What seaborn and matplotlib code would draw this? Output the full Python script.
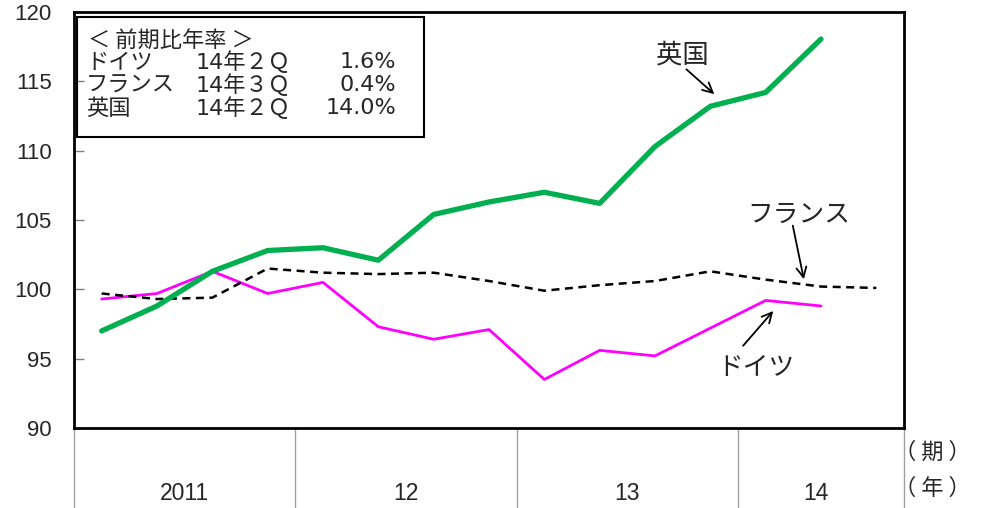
"""
欧州主要国の実質GDP推移（ドイツ・フランス・英国）の折れ線グラフ再現。
"""

import matplotlib
import numpy as np
import pandas as pd
import seaborn as sns

matplotlib.use("Agg")
import matplotlib.pyplot as plt
from matplotlib.patches import Rectangle

# 四半期（2011年1Q〜2014年3Q）
quarters = list(range(15))
year_labels = ["2011", "12", "13", "14"]
year_edges = [-0.5, 3.5, 7.5, 11.5, 14.5]

# 指数の値
uk = [97.0, 98.8, 101.3, 102.8, 103.0, 102.1, 105.4, 106.3, 107.0, 106.2,
      110.3, 113.2, 114.2, 118.05, np.nan]
germany = [99.3, 99.7, 101.3, 99.7, 100.5, 97.3, 96.4, 97.1, 93.5, 95.6,
           95.2, 97.2, 99.2, 98.8, np.nan]
france = [99.7, 99.3, 99.4, 101.5, 101.2, 101.1, 101.2, 100.6, 99.9, 100.3,
          100.6, 101.3, 100.7, 100.2, 100.1]

y_ticks = [90, 95, 100, 105, 110, 115, 120]

box_title = "＜ 前期比年率 ＞"
box_rows = [
    ("ドイツ", "14年２Ｑ", "1.6%"),
    ("フランス", "14年３Ｑ", "0.4%"),
    ("英国", "14年２Ｑ", "14.0%"),
]

JP = ["Noto Sans CJK JP", "DejaVu Sans"]
BOX = ["DejaVu Sans", "Noto Sans CJK JP"]


def main() -> None:
    sns.set_theme(style="white")
    plt.rcParams["font.family"] = ["Liberation Sans", "DejaVu Sans"]

    df = pd.DataFrame({"q": quarters, "英国": uk, "ドイツ": germany, "フランス": france})

    fig = plt.figure(figsize=(9.82, 5.08), dpi=100)
    ax = fig.add_axes([74 / 982, 1 - 428 / 508, 830 / 982, 416 / 508])

    sns.lineplot(data=df, x="q", y="ドイツ", color="#FF00FF", linewidth=2.0, ax=ax)
    sns.lineplot(data=df, x="q", y="フランス", color="black", linewidth=1.8,
                 linestyle=(0, (3.2, 2.2)), ax=ax)
    sns.lineplot(data=df, x="q", y="英国", color="#00B050", linewidth=3.8, ax=ax)

    ax.set_xlim(-0.5, 14.5)
    ax.set_ylim(90, 120)
    ax.set_yticks(y_ticks)
    ax.set_yticklabels([str(t) for t in y_ticks], fontsize=16)
    ax.set_xticks([])
    ax.set_xlabel("")
    ax.set_ylabel("")
    ax.tick_params(axis="y", direction="in", length=7, width=1, color="#808080",
                   left=True, pad=16)

    for s in ax.spines.values():
        s.set_visible(True)
        s.set_color("black")
        s.set_linewidth(2)

    # 年の区切り線と年ラベル
    xt = ax.get_xaxis_transform()
    for e in year_edges:
        ax.plot([e, e], [0, -0.2], transform=xt, color="#A0A0A0", lw=1, clip_on=False)
    for i, lab in enumerate(year_labels):
        cx = (year_edges[i] + year_edges[i + 1]) / 2
        if i == len(year_labels) - 1:
            cx -= 0.1
        ax.text(cx, -0.158, lab, transform=xt, ha="center", va="center", fontsize=16.5)

    fig.text(932 / 982, 1 - 452 / 508, "（ 期 ）", ha="center", va="center",
             fontsize=16, family=JP)
    fig.text(932 / 982, 1 - 488 / 508, "（ 年 ）", ha="center", va="center",
             fontsize=16, family=JP)

    # 左上の注記ボックス
    fig.patches.append(Rectangle((77 / 982, 1 - 137 / 508), 347 / 982, 120 / 508,
                                 transform=fig.transFigure, fill=False,
                                 edgecolor="black", linewidth=1.5))
    fig.text(88 / 982, 1 - 40 / 508, box_title, ha="left", va="center",
             fontsize=16, family=JP)
    for k, (name, period, rate) in enumerate(box_rows):
        yy = 1 - (62 + 23 * k) / 508
        fig.text(86 / 982, yy, name, ha="left", va="center", fontsize=16, family=JP)
        fig.text(196 / 982, yy, period, ha="left", va="center", fontsize=16, family=BOX)
        fig.text(396 / 982, yy, rate, ha="right", va="center", fontsize=16, family=BOX)

    # 系列ラベルと矢印
    arrow = dict(arrowstyle="->", color="black", lw=1.3, mutation_scale=18)
    ax.text(10.49, 116.9, "英国", ha="center", va="center", fontsize=19, family=JP)
    ax.annotate("", xy=(11.11, 113.94), xytext=(10.53, 116.0), arrowprops=arrow)
    ax.text(12.6, 105.36, "フランス", ha="center", va="center", fontsize=18.5, family=JP)
    ax.annotate("", xy=(12.7, 100.53), xytext=(12.48, 104.79), arrowprops=arrow)
    ax.text(11.83, 94.33, "ドイツ", ha="center", va="center", fontsize=18.5, family=JP)
    ax.annotate("", xy=(12.17, 98.59), xytext=(11.56, 95.78), arrowprops=arrow)

    fig.savefig("out.png", dpi=100)
    plt.close(fig)


if __name__ == "__main__":
    main()
